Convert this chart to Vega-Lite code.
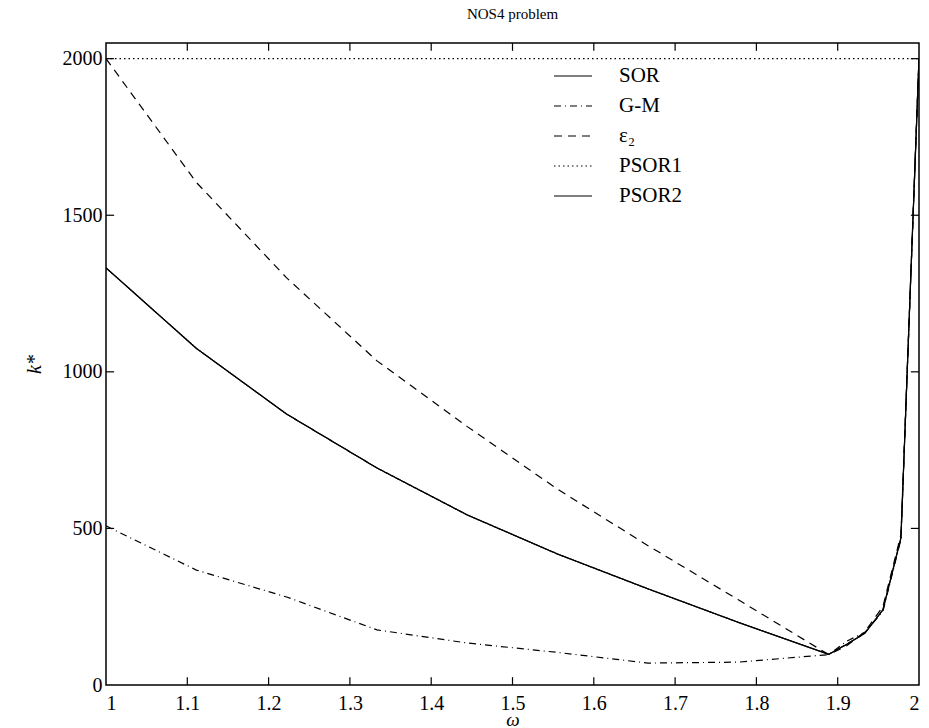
{
  "$schema": "https://vega.github.io/schema/vega-lite/v6.json",
  "autosize": "none",
  "padding": {"left": 106, "top": 43, "right": 10, "bottom": 43},
  "width": 813,
  "height": 642,
  "background": "white",
  "title": {"text": "NOS4 problem", "font": "Liberation Serif", "fontSize": 15, "fontWeight": "normal", "color": "black", "offset": 20, "anchor": "middle"},
  "config": {
    "view": {"stroke": "black", "strokeWidth": 1.5},
    "axis": {"domain": false, "grid": false, "ticks": false, "labelFont": "Liberation Serif", "labelFontSize": 20, "labelColor": "black", "titleFont": "Liberation Serif", "titleColor": "black", "titleFontWeight": "normal"}
  },
  "datasets": {
    "curves": [
      {"w": 1.0, "k": 1332, "method": "SOR"},
      {"w": 1.1111, "k": 1075, "method": "SOR"},
      {"w": 1.2222, "k": 865, "method": "SOR"},
      {"w": 1.3333, "k": 693, "method": "SOR"},
      {"w": 1.4444, "k": 543, "method": "SOR"},
      {"w": 1.5556, "k": 418, "method": "SOR"},
      {"w": 1.6667, "k": 307, "method": "SOR"},
      {"w": 1.7778, "k": 200, "method": "SOR"},
      {"w": 1.8889, "k": 98, "method": "SOR"},
      {"w": 1.9111, "k": 130, "method": "SOR"},
      {"w": 1.9333, "k": 165, "method": "SOR"},
      {"w": 1.9556, "k": 240, "method": "SOR"},
      {"w": 1.9778, "k": 470, "method": "SOR"},
      {"w": 2.0, "k": 2000, "method": "SOR"},
      {"w": 1.0, "k": 508, "method": "G-M"},
      {"w": 1.1111, "k": 367, "method": "G-M"},
      {"w": 1.2222, "k": 281, "method": "G-M"},
      {"w": 1.3333, "k": 176, "method": "G-M"},
      {"w": 1.4444, "k": 134, "method": "G-M"},
      {"w": 1.5556, "k": 104, "method": "G-M"},
      {"w": 1.6667, "k": 70, "method": "G-M"},
      {"w": 1.7778, "k": 73, "method": "G-M"},
      {"w": 1.8889, "k": 97, "method": "G-M"},
      {"w": 1.9111, "k": 140, "method": "G-M"},
      {"w": 1.9333, "k": 168, "method": "G-M"},
      {"w": 1.9556, "k": 235, "method": "G-M"},
      {"w": 1.9778, "k": 465, "method": "G-M"},
      {"w": 2.0, "k": 2000, "method": "G-M"},
      {"w": 1.0, "k": 2000, "method": "ε₂"},
      {"w": 1.1111, "k": 1605, "method": "ε₂"},
      {"w": 1.2222, "k": 1300, "method": "ε₂"},
      {"w": 1.3333, "k": 1035, "method": "ε₂"},
      {"w": 1.4444, "k": 825, "method": "ε₂"},
      {"w": 1.5556, "k": 625, "method": "ε₂"},
      {"w": 1.6667, "k": 445, "method": "ε₂"},
      {"w": 1.7778, "k": 272, "method": "ε₂"},
      {"w": 1.8889, "k": 97, "method": "ε₂"},
      {"w": 1.9111, "k": 125, "method": "ε₂"},
      {"w": 1.9333, "k": 170, "method": "ε₂"},
      {"w": 1.9556, "k": 250, "method": "ε₂"},
      {"w": 1.9778, "k": 480, "method": "ε₂"},
      {"w": 2.0, "k": 2000, "method": "ε₂"},
      {"w": 1.0, "k": 2000, "method": "PSOR1"},
      {"w": 1.5, "k": 2000, "method": "PSOR1"},
      {"w": 2.0, "k": 2000, "method": "PSOR1"},
      {"w": 1.0, "k": 1332, "method": "PSOR2"},
      {"w": 1.1111, "k": 1075, "method": "PSOR2"},
      {"w": 1.2222, "k": 865, "method": "PSOR2"},
      {"w": 1.3333, "k": 693, "method": "PSOR2"},
      {"w": 1.4444, "k": 543, "method": "PSOR2"},
      {"w": 1.5556, "k": 418, "method": "PSOR2"},
      {"w": 1.6667, "k": 307, "method": "PSOR2"},
      {"w": 1.7778, "k": 200, "method": "PSOR2"},
      {"w": 1.8889, "k": 98, "method": "PSOR2"},
      {"w": 1.9111, "k": 130, "method": "PSOR2"},
      {"w": 1.9333, "k": 165, "method": "PSOR2"},
      {"w": 1.9556, "k": 240, "method": "PSOR2"},
      {"w": 1.9778, "k": 470, "method": "PSOR2"},
      {"w": 2.0, "k": 2000, "method": "PSOR2"}
    ],
    "frameticks": [
      {"w": 1.1, "w2": 1.1, "k": 0, "k2": 25}, {"w": 1.2, "w2": 1.2, "k": 0, "k2": 25}, {"w": 1.3, "w2": 1.3, "k": 0, "k2": 25},
      {"w": 1.4, "w2": 1.4, "k": 0, "k2": 25}, {"w": 1.5, "w2": 1.5, "k": 0, "k2": 25}, {"w": 1.6, "w2": 1.6, "k": 0, "k2": 25},
      {"w": 1.7, "w2": 1.7, "k": 0, "k2": 25}, {"w": 1.8, "w2": 1.8, "k": 0, "k2": 25}, {"w": 1.9, "w2": 1.9, "k": 0, "k2": 25},
      {"w": 1.1, "w2": 1.1, "k": 2050, "k2": 2025}, {"w": 1.2, "w2": 1.2, "k": 2050, "k2": 2025}, {"w": 1.3, "w2": 1.3, "k": 2050, "k2": 2025},
      {"w": 1.4, "w2": 1.4, "k": 2050, "k2": 2025}, {"w": 1.5, "w2": 1.5, "k": 2050, "k2": 2025}, {"w": 1.6, "w2": 1.6, "k": 2050, "k2": 2025},
      {"w": 1.7, "w2": 1.7, "k": 2050, "k2": 2025}, {"w": 1.8, "w2": 1.8, "k": 2050, "k2": 2025}, {"w": 1.9, "w2": 1.9, "k": 2050, "k2": 2025},
      {"w": 1.0, "w2": 1.01, "k": 500, "k2": 500}, {"w": 1.0, "w2": 1.01, "k": 1000, "k2": 1000},
      {"w": 1.0, "w2": 1.01, "k": 1500, "k2": 1500}, {"w": 1.0, "w2": 1.01, "k": 2000, "k2": 2000},
      {"w": 2.0, "w2": 1.99, "k": 500, "k2": 500}, {"w": 2.0, "w2": 1.99, "k": 1000, "k2": 1000},
      {"w": 2.0, "w2": 1.99, "k": 1500, "k2": 1500}, {"w": 2.0, "w2": 1.99, "k": 2000, "k2": 2000}
    ]
  },
  "layer": [
    {
      "data": {"name": "curves"},
      "mark": {"type": "line", "color": "black", "strokeWidth": 1.2, "clip": true},
      "encoding": {
        "x": {"field": "w", "type": "quantitative", "scale": {"domain": [1, 2], "nice": false, "zero": false},
          "axis": {"orient": "bottom", "values": [1, 1.1, 1.2, 1.3, 1.4, 1.5, 1.6, 1.7, 1.8, 1.9, 2], "format": ".1~f", "labelPadding": 8, "title": "ω", "titleFontStyle": "italic", "titleFontSize": 19, "titlePadding": -3}},
        "y": {"field": "k", "type": "quantitative", "scale": {"domain": [0, 2050], "nice": false},
          "axis": {"orient": "left", "values": [0, 500, 1000, 1500, 2000], "format": "d", "labelPadding": 4, "title": "k*", "titleFontStyle": "italic", "titleFontSize": 20, "titlePadding": 18}},
        "strokeDash": {"field": "method", "type": "nominal",
          "scale": {"domain": ["SOR", "G-M", "ε₂", "PSOR1", "PSOR2"], "range": [[1, 0], [7, 4, 1, 4], [8, 6], [1.5, 3], [1, 0]]},
          "legend": {"orient": "none", "legendX": 447, "legendY": 13, "title": null, "symbolType": "stroke", "symbolSize": 1444, "symbolStrokeColor": "black", "symbolStrokeWidth": 1.2, "labelFont": "Liberation Serif", "labelFontSize": 21, "labelColor": "black", "labelOffset": 26, "rowPadding": -5, "padding": 0}}
      }
    },
    {
      "data": {"name": "frameticks"},
      "mark": {"type": "rule", "color": "black", "strokeWidth": 1.2},
      "encoding": {
        "x": {"field": "w", "type": "quantitative", "axis": null},
        "x2": {"field": "w2"},
        "y": {"field": "k", "type": "quantitative", "axis": null},
        "y2": {"field": "k2"}
      }
    }
  ],
  "resolve": {"axis": {"x": "independent", "y": "independent"}}
}
